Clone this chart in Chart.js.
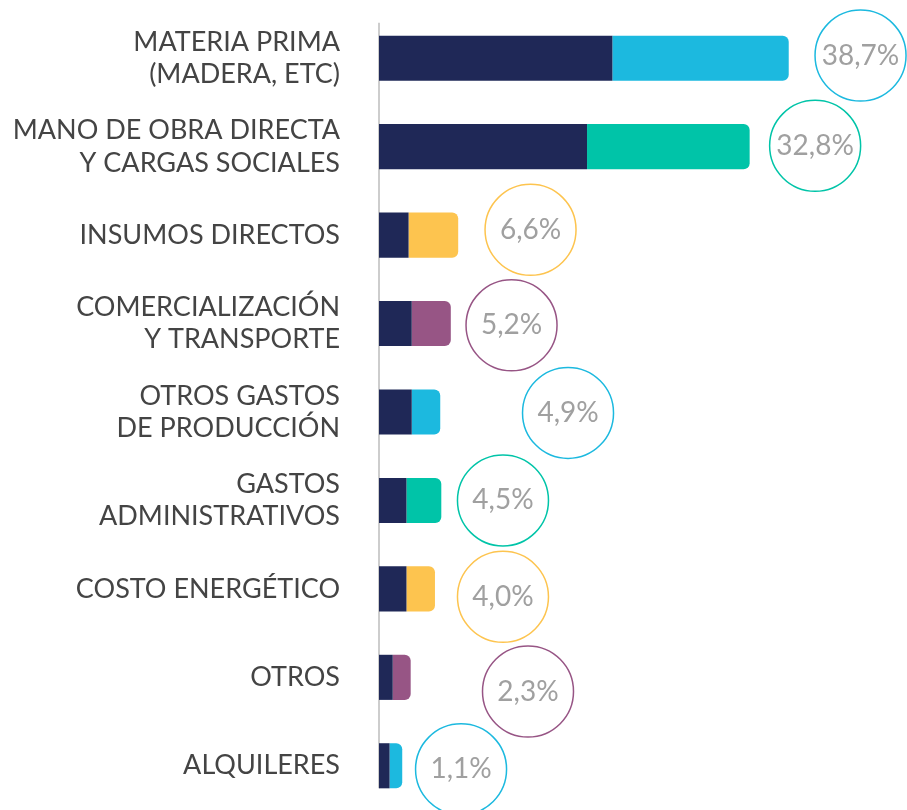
<!DOCTYPE html>
<html>
<head>
<meta charset="utf-8">
<script src="https://cdn.jsdelivr.net/npm/chart.js@4.4.1/dist/chart.umd.min.js"></script>
<style>
  html, body { margin: 0; padding: 0; background: #ffffff; }
  #wrap { width: 907px; height: 810px; position: relative; }
</style>
</head>
<body>
<div id="wrap"><canvas id="chart"></canvas></div>
<script>
// ---- data ----
const categories = [
  ["MATERIA PRIMA", "(MADERA, ETC)"],
  ["MANO DE OBRA DIRECTA", "Y CARGAS SOCIALES"],
  "INSUMOS DIRECTOS",
  ["COMERCIALIZACIÓN", "Y TRANSPORTE"],
  ["OTROS GASTOS", "DE PRODUCCIÓN"],
  ["GASTOS", "ADMINISTRATIVOS"],
  "COSTO ENERGÉTICO",
  "OTROS",
  "ALQUILERES"
];
const baseValues  = [22.1, 19.7, 2.8, 3.1, 3.1, 2.6, 2.6, 1.3, 1.0];
const shareValues = [16.7, 15.4, 4.7, 3.7, 2.7, 3.3, 2.7, 1.7, 1.2];
const percentLabels = ["38,7%", "32,8%", "6,6%", "5,2%", "4,9%", "4,5%", "4,0%", "2,3%", "1,1%"];
const circleX = [45.6, 41.3, 14.35, 12.55, 17.9, 11.74, 11.74, 14.11, 7.77];
const circleY = [-0.03, 0.99, 1.94, 3.02, 4.01, 5.0, 6.09, 7.16, 8.04];

// ---- style ----
const NAVY = "#1f2857";
const palette = ["#1cb9df", "#00c4a8", "#fdc44f", "#975585"];
const accent = categories.map((_, i) => palette[i % palette.length]);
const FONT = "Lato, 'Open Sans', sans-serif";

const axisLinePlugin = {
  id: "axisLine",
  beforeDatasetsDraw(chart) {
    const meta = chart.getDatasetMeta(0);
    const first = meta.data[0], last = meta.data[meta.data.length - 1];
    const x = chart.scales.x.getPixelForValue(0);
    const ctx = chart.ctx;
    ctx.save();
    ctx.strokeStyle = "#bdbdbd";
    ctx.lineWidth = 1.5;
    ctx.beginPath();
    ctx.moveTo(x, first.y - first.height / 2 - 13);
    ctx.lineTo(x, last.y + last.height / 2);
    ctx.stroke();
    ctx.restore();
  }
};

const circleTextPlugin = {
  id: "circleText",
  afterDatasetsDraw(chart) {
    const meta = chart.getDatasetMeta(2);
    const ctx = chart.ctx;
    ctx.save();
    ctx.fillStyle = "#a0a0a0";
    ctx.font = "28px " + FONT;
    ctx.textAlign = "center";
    ctx.textBaseline = "middle";
    meta.data.forEach((el, i) => {
      ctx.fillText(percentLabels[i], el.x, el.y);
    });
    ctx.restore();
  }
};

function draw() {
  new Chart(document.getElementById("chart"), {
    type: "bar",
    data: {
      labels: categories,
      datasets: [
        {
          data: baseValues,
          backgroundColor: NAVY,
          borderWidth: 0,
          borderRadius: 0,
          stack: "total",
          grouped: false,
          barPercentage: 1,
          categoryPercentage: 0.51,
          xAxisID: "x",
          yAxisID: "y"
        },
        {
          data: shareValues,
          backgroundColor: accent,
          borderWidth: 0,
          borderRadius: 6,
          stack: "total",
          grouped: false,
          barPercentage: 1,
          categoryPercentage: 0.51,
          xAxisID: "x",
          yAxisID: "y"
        },
        {
          type: "bubble",
          data: circleX.map((x, i) => ({ x: x, y: circleY[i], r: 45.5 })),
          backgroundColor: "rgba(255,255,255,0)",
          borderColor: accent,
          borderWidth: 1.5,
          hoverRadius: 0,
          hoverBorderWidth: 1.5,
          indexAxis: "x",
          xAxisID: "x",
          yAxisID: "y2",
          clip: false
        }
      ]
    },
    options: {
      indexAxis: "y",
      responsive: true,
      maintainAspectRatio: false,
      animation: false,
      events: [],
      layout: { autoPadding: false, padding: { top: 14, bottom: 0, left: 0, right: 0 } },
      plugins: {
        legend: { display: false },
        tooltip: { enabled: false }
      },
      scales: {
        x: {
          type: "linear",
          axis: "x",
          min: 0,
          max: 50,
          offset: false,
          grace: 0,
          stacked: true,
          display: false
        },
        y: {
          type: "category",
          axis: "y",
          position: "left",
          offset: true,
          stacked: true,
          grid: { display: false, drawTicks: false, offset: true },
          border: { display: false },
          ticks: {
            color: "#444444",
            font: { family: FONT, size: 27, lineHeight: 1.2 },
            padding: 39,
            autoSkip: false
          },
          afterFit(scale) {
            scale.width = 379;
            scale.paddingTop = 0;
            scale.paddingBottom = 0;
          }
        },
        y2: {
          type: "linear",
          axis: "y",
          position: "left",
          min: -0.5,
          max: 8.5,
          offset: false,
          grace: 0,
          reverse: true,
          display: false
        }
      }
    },
    plugins: [axisLinePlugin, circleTextPlugin]
  });
}

if (document.fonts && document.fonts.load) {
  Promise.all([document.fonts.load("27px Lato"), document.fonts.load("28px Lato")]).then(draw, draw);
} else {
  draw();
}
</script>
</body>
</html>
